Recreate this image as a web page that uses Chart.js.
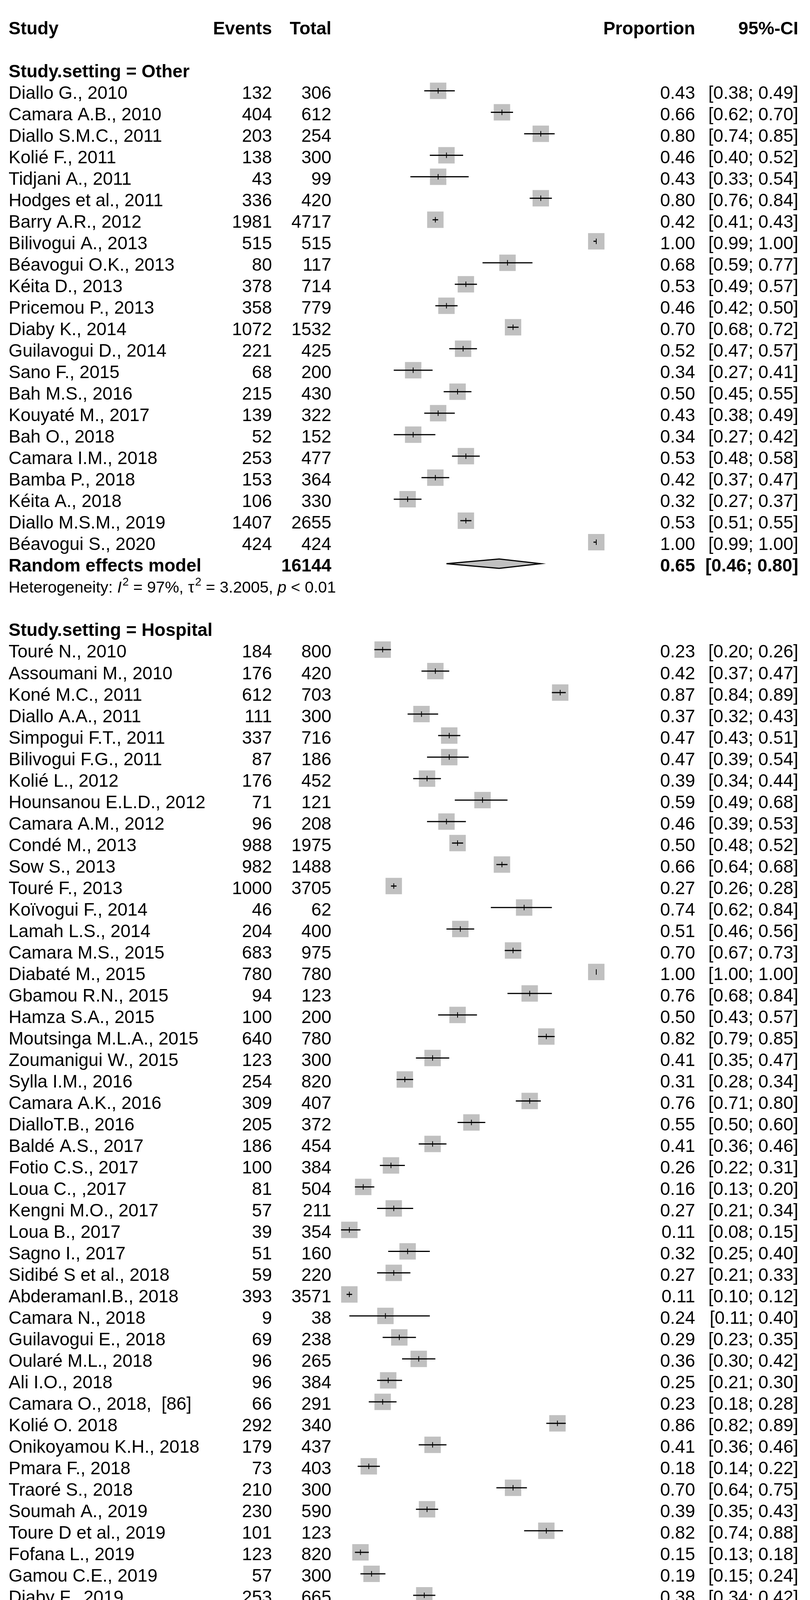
<!DOCTYPE html>
<html>
<head>
<meta charset="utf-8">
<title>Forest plot – Study.setting</title>
<script src="https://cdn.jsdelivr.net/npm/chart.js@4.4.1/dist/chart.umd.min.js"></script>
<style>
  html, body { margin: 0; padding: 0; background: #fff; }
  #wrap { width: 2073px; height: 4457px; }
  canvas { display: block; }
</style>
</head>
<body>
<div id="wrap"><canvas id="forest" width="2073" height="4457"></canvas></div>
<script>
// ---- values ----
const otherStudies = ["Diallo G., 2010", "Camara A.B., 2010", "Diallo S.M.C., 2011", "Kolié F., 2011",
  "Tidjani A., 2011", "Hodges et al., 2011", "Barry A.R., 2012", "Bilivogui A., 2013", "Béavogui O.K., 2013",
  "Kéita D., 2013", "Pricemou P., 2013", "Diaby K., 2014", "Guilavogui D., 2014", "Sano F., 2015",
  "Bah M.S., 2016", "Kouyaté M., 2017", "Bah O., 2018", "Camara I.M., 2018", "Bamba P., 2018",
  "Kéita A., 2018", "Diallo M.S.M., 2019", "Béavogui S., 2020"];
const otherEvents = [132, 404, 203, 138, 43, 336, 1981, 515, 80, 378, 358, 1072, 221, 68, 215, 139, 52, 253, 153, 106, 1407, 424];
const otherTotals = [306, 612, 254, 300, 99, 420, 4717, 515, 117, 714, 779, 1532, 425, 200, 430, 322, 152, 477, 364, 330, 2655, 424];
const otherProp  = [0.43, 0.66, 0.80, 0.46, 0.43, 0.80, 0.42, 1.00, 0.68, 0.53, 0.46, 0.70, 0.52, 0.34, 0.50, 0.43, 0.34, 0.53, 0.42, 0.32, 0.53, 1.00];
const otherLower = [0.38, 0.62, 0.74, 0.40, 0.33, 0.76, 0.41, 0.99, 0.59, 0.49, 0.42, 0.68, 0.47, 0.27, 0.45, 0.38, 0.27, 0.48, 0.37, 0.27, 0.51, 0.99];
const otherUpper = [0.49, 0.70, 0.85, 0.52, 0.54, 0.84, 0.43, 1.00, 0.77, 0.57, 0.50, 0.72, 0.57, 0.41, 0.55, 0.49, 0.42, 0.58, 0.47, 0.37, 0.55, 1.00];
const otherPooled = { total: 16144, prop: 0.65, lower: 0.46, upper: 0.80 };
const otherHet = { i2: "97%", tau2: "3.2005", p: "< 0.01" };

const hospStudies = ["Touré N., 2010", "Assoumani M., 2010", "Koné M.C., 2011", "Diallo A.A., 2011",
  "Simpogui F.T., 2011", "Bilivogui F.G., 2011", "Kolié L., 2012", "Hounsanou E.L.D., 2012", "Camara A.M., 2012",
  "Condé M., 2013", "Sow S., 2013", "Touré F., 2013", "Koïvogui F., 2014", "Lamah L.S., 2014",
  "Camara M.S., 2015", "Diabaté M., 2015", "Gbamou R.N., 2015", "Hamza S.A., 2015", "Moutsinga M.L.A., 2015",
  "Zoumanigui W., 2015", "Sylla I.M., 2016", "Camara A.K., 2016", "DialloT.B., 2016", "Baldé A.S., 2017",
  "Fotio C.S., 2017", "Loua C., ,2017", "Kengni M.O., 2017", "Loua B., 2017", "Sagno I., 2017",
  "Sidibé S et al., 2018", "AbderamanI.B., 2018", "Camara N., 2018", "Guilavogui E., 2018", "Oularé M.L., 2018",
  "Ali I.O., 2018", "Camara O., 2018,  [86]", "Kolié O. 2018", "Onikoyamou K.H., 2018", "Pmara F., 2018",
  "Traoré S., 2018", "Soumah A., 2019", "Toure D et al., 2019", "Fofana L., 2019", "Gamou C.E., 2019",
  "Diaby F., 2019", "Traoré S., 2019", "Condé A.F., 2020"];
const hospEvents = [184, 176, 612, 111, 337, 87, 176, 71, 96, 988, 982, 1000, 46, 204, 683, 780, 94, 100, 640, 123,
  254, 309, 205, 186, 100, 81, 57, 39, 51, 59, 393, 9, 69, 96, 96, 66, 292, 179, 73, 210, 230, 101, 123, 57, 253, 73, 290];
const hospTotals = [800, 420, 703, 300, 716, 186, 452, 121, 208, 1975, 1488, 3705, 62, 400, 975, 780, 123, 200, 780, 300,
  820, 407, 372, 454, 384, 504, 211, 354, 160, 220, 3571, 38, 238, 265, 384, 291, 340, 437, 403, 300, 590, 123, 820, 300, 665, 315, 382];
const hospProp  = [0.23, 0.42, 0.87, 0.37, 0.47, 0.47, 0.39, 0.59, 0.46, 0.50, 0.66, 0.27, 0.74, 0.51, 0.70, 1.00, 0.76, 0.50, 0.82, 0.41,
  0.31, 0.76, 0.55, 0.41, 0.26, 0.16, 0.27, 0.11, 0.32, 0.27, 0.11, 0.24, 0.29, 0.36, 0.25, 0.23, 0.86, 0.41, 0.18, 0.70, 0.39, 0.82, 0.15, 0.19, 0.38, 0.23, 0.76];
const hospLower = [0.20, 0.37, 0.84, 0.32, 0.43, 0.39, 0.34, 0.49, 0.39, 0.48, 0.64, 0.26, 0.62, 0.46, 0.67, 1.00, 0.68, 0.43, 0.79, 0.35,
  0.28, 0.71, 0.50, 0.36, 0.22, 0.13, 0.21, 0.08, 0.25, 0.21, 0.10, 0.11, 0.23, 0.30, 0.21, 0.18, 0.82, 0.36, 0.14, 0.64, 0.35, 0.74, 0.13, 0.15, 0.34, 0.19, 0.71];
const hospUpper = [0.26, 0.47, 0.89, 0.43, 0.51, 0.54, 0.44, 0.68, 0.53, 0.52, 0.68, 0.28, 0.84, 0.56, 0.73, 1.00, 0.84, 0.57, 0.85, 0.47,
  0.34, 0.80, 0.60, 0.46, 0.31, 0.20, 0.34, 0.15, 0.40, 0.33, 0.12, 0.40, 0.35, 0.42, 0.30, 0.28, 0.89, 0.46, 0.22, 0.75, 0.43, 0.88, 0.18, 0.24, 0.42, 0.28, 0.80];
const hospPooled = { total: 28042, prop: 0.46, lower: 0.37, upper: 0.56 };
const hospHet = { i2: "99%", tau2: "1.7680", p: "= 0" };

const subgroupTest = { chi2: "3.16", df: "1", p: "0.08" };
const xTicks = [0.2, 0.4, 0.6, 0.8, 1];

// ---- row layout (one unit = one text line) ----
const groups = [
  { title: "Study.setting = Other", names: otherStudies, ev: otherEvents, n: otherTotals,
    p: otherProp, lo: otherLower, hi: otherUpper, pooled: otherPooled, het: otherHet },
  { title: "Study.setting = Hospital", names: hospStudies, ev: hospEvents, n: hospTotals,
    p: hospProp, lo: hospLower, hi: hospUpper, pooled: hospPooled, het: hospHet }
];
let row = 2;
const studyRows = [], pooledRows = [], titleRows = [], hetRows = [];
groups.forEach(g => {
  titleRows.push({ r: row, text: g.title }); row++;
  g.names.forEach((nm, i) => {
    studyRows.push({ r: row, name: nm, ev: g.ev[i], n: g.n[i], p: g.p[i], lo: g.lo[i], hi: g.hi[i] });
    row++;
  });
  pooledRows.push({ r: row, n: g.pooled.total, p: g.pooled.prop, lo: g.pooled.lower, hi: g.pooled.upper }); row++;
  hetRows.push({ r: row, het: g.het }); row++;
  row++; // blank line between subgroups
});
const testRow = row - 1;

const FS = 46, FS_SMALL = 41;
const COL = { name: 22, events: 696, total: 848, prop: 1779, ci: 2043 };
const fam = '"Liberation Sans", Arial, Helvetica, sans-serif';
const font = (size, bold, italic) => `${italic ? 'italic ' : ''}${bold ? 'bold ' : ''}${size}px ${fam}`;
const ciText = (lo, hi) => `[${lo.toFixed(2)}; ${hi.toFixed(2)}]`;

function drawRich(ctx, x, base, parts, fs) {
  let cx = x;
  parts.forEach(p => {
    if (p.sup !== undefined || p.sub !== undefined) {
      ctx.font = font(Math.round(fs * 0.7), false, false);
      let w = 0;
      if (p.sup !== undefined) { ctx.fillText(p.sup, cx + 2, base - fs * 0.42); w = Math.max(w, ctx.measureText(p.sup).width); }
      if (p.sub !== undefined) { ctx.fillText(p.sub, cx + 2, base + fs * 0.3); w = Math.max(w, ctx.measureText(p.sub).width); }
      cx += w + 2;
    } else {
      ctx.font = font(fs, false, p.it);
      ctx.fillText(p.t, cx, base);
      cx += ctx.measureText(p.t).width;
    }
  });
}

const forestPlugin = {
  id: 'forest',
  beforeDatasetsDraw(chart) {
    // axis line only over the ticked range 0.2 – 1
    const { ctx, chartArea, scales: { x } } = chart;
    ctx.save();
    ctx.strokeStyle = '#000';
    ctx.lineWidth = 3;
    ctx.lineCap = 'square';
    ctx.beginPath();
    ctx.moveTo(x.getPixelForValue(xTicks[0]), chartArea.bottom);
    ctx.lineTo(x.getPixelForValue(xTicks[xTicks.length - 1]), chartArea.bottom);
    ctx.stroke();
    ctx.restore();
  },
  afterDatasetsDraw(chart) {
    const { ctx, scales: { x, y } } = chart;
    ctx.save();
    ctx.strokeStyle = '#000';
    studyRows.forEach(s => {
      const yy = y.getPixelForValue(s.r);
      ctx.lineWidth = 3;
      ctx.beginPath();
      ctx.moveTo(x.getPixelForValue(s.lo), yy);
      ctx.lineTo(x.getPixelForValue(s.hi), yy);
      ctx.stroke();
      const px = x.getPixelForValue(s.p);
      ctx.lineWidth = 2;
      ctx.beginPath();
      ctx.moveTo(px, yy - 7);
      ctx.lineTo(px, yy + 7);
      ctx.stroke();
    });
    pooledRows.forEach(s => {
      const yy = y.getPixelForValue(s.r);
      ctx.beginPath();
      ctx.moveTo(x.getPixelForValue(s.lo), yy);
      ctx.lineTo(x.getPixelForValue(s.p), yy - 12);
      ctx.lineTo(x.getPixelForValue(s.hi), yy);
      ctx.lineTo(x.getPixelForValue(s.p), yy + 12);
      ctx.closePath();
      ctx.fillStyle = '#c0c0c0';
      ctx.fill();
      ctx.lineWidth = 3;
      ctx.stroke();
    });
    ctx.restore();
  },
  afterDraw(chart) {
    const { ctx, scales: { y } } = chart;
    const base = (r, fs) => y.getPixelForValue(r) + 4 + fs * 0.358;
    ctx.save();
    ctx.fillStyle = '#000';
    const txt = (t, xx, r, align, bold, fs = FS) => {
      ctx.font = font(fs, bold, false);
      ctx.textAlign = align;
      ctx.fillText(t, xx, base(r, fs));
    };
    // header
    txt('Study', COL.name, 0, 'left', true);
    txt('Events', COL.events, 0, 'right', true);
    txt('Total', COL.total, 0, 'right', true);
    txt('Proportion', COL.prop, 0, 'right', true);
    txt('95%-CI', COL.ci, 0, 'right', true);
    titleRows.forEach(t => txt(t.text, COL.name, t.r, 'left', true));
    studyRows.forEach(s => {
      txt(s.name, COL.name, s.r, 'left', false);
      txt(String(s.ev), COL.events, s.r, 'right', false);
      txt(String(s.n), COL.total, s.r, 'right', false);
      txt(s.p.toFixed(2), COL.prop, s.r, 'right', false);
      txt(ciText(s.lo, s.hi), COL.ci, s.r, 'right', false);
    });
    pooledRows.forEach(s => {
      txt('Random effects model', COL.name, s.r, 'left', true);
      txt(String(s.n), COL.total, s.r, 'right', true);
      txt(s.p.toFixed(2), COL.prop, s.r, 'right', true);
      txt(ciText(s.lo, s.hi), COL.ci, s.r, 'right', true);
    });
    ctx.textAlign = 'left';
    hetRows.forEach(h => {
      drawRich(ctx, COL.name, base(h.r, FS_SMALL), [
        { t: 'Heterogeneity: ' }, { t: 'I', it: true }, { sup: '2' }, { t: ' = ' + h.het.i2 + ', ' },
        { t: 'τ' }, { sup: '2' }, { t: ' = ' + h.het.tau2 + ', ' }, { t: 'p', it: true }, { t: ' ' + h.het.p }
      ], FS_SMALL);
    });
    drawRich(ctx, COL.name, base(testRow, FS_SMALL), [
      { t: 'Test for subgroup differences: ' }, { t: 'χ' }, { sup: '2', sub: subgroupTest.df },
      { t: ' = ' + subgroupTest.chi2 + ', df = ' + subgroupTest.df + ' (' }, { t: 'p', it: true },
      { t: ' = ' + subgroupTest.p + ')' }
    ], FS_SMALL);
    ctx.restore();
  }
};

const ctx = document.getElementById('forest').getContext('2d');
new Chart(ctx, {
  type: 'scatter',
  data: {
    datasets: [{
      label: 'Proportion',
      data: studyRows.map(s => ({ x: s.p, y: s.r })),
      pointStyle: 'rect',
      pointRadius: 29.7,
      pointHoverRadius: 29.7,
      backgroundColor: '#c0c0c0',
      borderColor: '#c0c0c0',
      borderWidth: 0,
      clip: false
    }]
  },
  options: {
    responsive: false,
    animation: false,
    devicePixelRatio: 1,
    events: [],
    // x = 0 sits at 816 px, x = 1 at 1526 px
    layout: { padding: { left: 816, right: 2073 - 1526, top: 0, bottom: 0 } },
    plugins: { legend: { display: false }, tooltip: { enabled: false } },
    scales: {
      x: {
        type: 'linear',
        position: 'bottom',
        min: 0,
        max: 1,
        afterBuildTicks: (scale) => { scale.ticks = xTicks.map(v => ({ value: v })); },
        afterFit: (scale) => { scale.height = 4457 - 4333; },
        border: { display: false },
        grid: { drawOnChartArea: false, drawTicks: true, tickLength: 30, color: '#000', lineWidth: 3 },
        ticks: {
          color: '#000',
          padding: 26,
          maxRotation: 0,
          font: { family: fam, size: 45 },
          callback: (v) => (v === 1 ? '1' : Number(v).toFixed(1))
        }
      },
      y: {
        type: 'linear',
        display: false,
        reverse: true,
        min: -38 / 55.4,
        max: (4333 - 38) / 55.4
      }
    }
  },
  plugins: [forestPlugin]
});
</script>
</body>
</html>
